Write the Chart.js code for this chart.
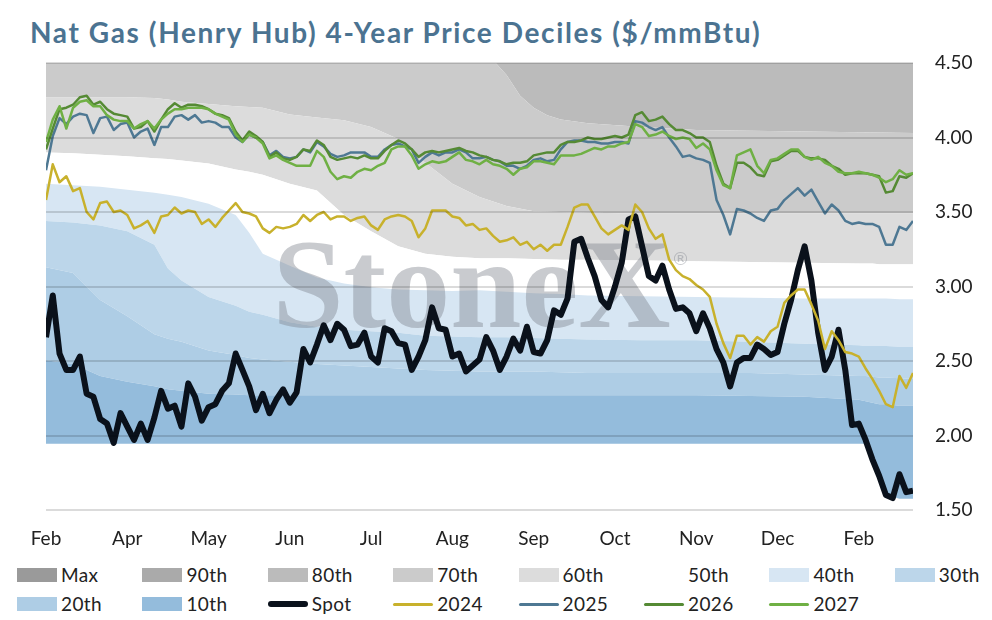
<!DOCTYPE html>
<html>
<head>
<meta charset="utf-8">
<script src="https://cdn.jsdelivr.net/npm/chart.js@4.4.1/dist/chart.umd.min.js"></script>
<style>
  html, body { margin: 0; padding: 0; background: #fff; }
  #wrap { position: relative; width: 992px; height: 620px; overflow: hidden; font-family: Lato, "Open Sans", sans-serif; }
  #title { position: absolute; left: 30px; top: 18px; font-size: 28px; line-height: 28px; font-weight: 700; letter-spacing: 1.6px; color: #4b7391; white-space: nowrap; }
  #chartBox { position: absolute; left: 0; top: 0; width: 992px; height: 562px; }
  .item { position: absolute; height: 20px; font-size: 19px; line-height: 20px; letter-spacing: 0.4px; color: #222; white-space: nowrap; }
  .swatch { position: absolute; left: 0; width: 40px; }
  .txt { position: absolute; left: 44px; top: 0; }
</style>
</head>
<body>
<div id="wrap">
  <div id="title">Nat Gas (Henry Hub) 4-Year Price Deciles ($/mmBtu)</div>
  <div id="chartBox"><canvas id="myChart"></canvas></div>
  <div id="legend"></div>
</div>
<script>
// x positions are trading-day steps; a month label every 12 steps
const tickIdx = [0, 12, 24, 36, 48, 60, 72, 84, 96, 108, 120];
const tickLabels = ["Feb", "Apr", "May", "Jun", "Jul", "Aug", "Sep", "Oct", "Nov", "Dec", "Feb"];

const spot = [
    2.66, 2.94, 2.55, 2.44, 2.44, 2.53, 2.28, 2.26, 2.11, 2.08,
    1.95, 2.15, 2.06, 1.97, 2.08, 1.97, 2.12, 2.30, 2.18, 2.20,
    2.06, 2.35, 2.26, 2.10, 2.19, 2.21, 2.30, 2.35, 2.55, 2.44,
    2.33, 2.17, 2.28, 2.15, 2.24, 2.31, 2.22, 2.29, 2.58, 2.49,
    2.61, 2.74, 2.64, 2.75, 2.71, 2.60, 2.61, 2.69, 2.53, 2.49,
    2.72, 2.70, 2.62, 2.61, 2.44, 2.53, 2.64, 2.86, 2.72, 2.71,
    2.53, 2.55, 2.43, 2.47, 2.51, 2.66, 2.57, 2.44, 2.53, 2.65,
    2.57, 2.73, 2.56, 2.55, 2.64, 2.84, 2.81, 2.92, 3.30, 3.32,
    3.19, 3.07, 2.91, 2.86, 3.00, 3.16, 3.45, 3.47, 3.27, 3.07,
    3.04, 3.14, 2.98, 2.85, 2.86, 2.82, 2.70, 2.82, 2.72, 2.58,
    2.49, 2.33, 2.49, 2.52, 2.52, 2.61, 2.58, 2.54, 2.56, 2.75,
    2.91, 3.11, 3.27, 3.04, 2.69, 2.44, 2.53, 2.71, 2.44, 2.07,
    2.08, 1.97, 1.84, 1.73, 1.60, 1.58, 1.74, 1.62, 1.63
];
const cal2024 = [
    3.58, 3.82, 3.70, 3.74, 3.64, 3.66, 3.50, 3.45, 3.56, 3.57,
    3.50, 3.51, 3.48, 3.39, 3.41, 3.44, 3.36, 3.47, 3.48, 3.53,
    3.49, 3.51, 3.50, 3.42, 3.45, 3.40, 3.46, 3.51, 3.56, 3.50,
    3.49, 3.47, 3.39, 3.36, 3.40, 3.39, 3.40, 3.42, 3.48, 3.44,
    3.48, 3.50, 3.45, 3.47, 3.47, 3.44, 3.46, 3.47, 3.41, 3.38,
    3.45, 3.47, 3.48, 3.47, 3.44, 3.33, 3.39, 3.51, 3.51, 3.51,
    3.47, 3.46, 3.41, 3.42, 3.38, 3.39, 3.34, 3.30, 3.31, 3.33,
    3.28, 3.30, 3.25, 3.28, 3.24, 3.28, 3.28, 3.40, 3.53, 3.55,
    3.55, 3.47, 3.39, 3.35, 3.38, 3.41, 3.38, 3.55, 3.50, 3.39,
    3.32, 3.35, 3.18, 3.11, 3.07, 3.05, 3.01, 2.98, 2.93, 2.75,
    2.62, 2.52, 2.67, 2.67, 2.61, 2.66, 2.63, 2.70, 2.73, 2.89,
    2.94, 2.98, 2.98, 2.88, 2.77, 2.58, 2.70, 2.64, 2.56, 2.55,
    2.53, 2.45, 2.38, 2.30, 2.21, 2.19, 2.40, 2.32, 2.42
];
const cal2025 = [
    3.78, 4.01, 4.13, 4.09, 4.14, 4.16, 4.15, 4.03, 4.13, 4.14,
    4.05, 4.09, 4.10, 4.00, 4.04, 4.06, 3.95, 4.07, 4.07, 4.14,
    4.15, 4.12, 4.15, 4.10, 4.11, 4.10, 4.07, 4.07, 4.00, 3.97,
    4.02, 4.00, 3.97, 3.88, 3.91, 3.87, 3.86, 3.87, 3.92, 3.90,
    3.97, 3.94, 3.89, 3.87, 3.88, 3.90, 3.90, 3.90, 3.87, 3.87,
    3.92, 3.95, 3.96, 3.94, 3.92, 3.83, 3.87, 3.90, 3.88, 3.90,
    3.90, 3.92, 3.90, 3.86, 3.86, 3.87, 3.85, 3.84, 3.81, 3.81,
    3.79, 3.81, 3.85, 3.86, 3.84, 3.85, 3.92, 3.97, 3.98, 3.98,
    3.97, 3.97, 3.96, 3.96, 3.97, 3.97, 3.96, 4.11, 4.10, 4.07,
    4.05, 4.07, 4.00, 3.94, 3.87, 3.88, 3.86, 3.85, 3.83, 3.58,
    3.48, 3.35, 3.52, 3.51, 3.49, 3.46, 3.44, 3.51, 3.52, 3.58,
    3.62, 3.66, 3.61, 3.65, 3.57, 3.49, 3.55, 3.51, 3.44, 3.42,
    3.43, 3.42, 3.42, 3.40, 3.28, 3.28, 3.40, 3.38, 3.44
];
const cal2026 = [
    3.92, 4.06, 4.19, 4.20, 4.22, 4.27, 4.28, 4.22, 4.24, 4.19,
    4.16, 4.15, 4.14, 4.06, 4.07, 4.11, 4.04, 4.12, 4.19, 4.23,
    4.20, 4.22, 4.22, 4.21, 4.19, 4.16, 4.15, 4.13, 4.04, 3.98,
    4.04, 4.01, 3.97, 3.87, 3.90, 3.86, 3.85, 3.87, 3.92, 3.91,
    3.98, 3.95, 3.87, 3.85, 3.86, 3.87, 3.86, 3.88, 3.86, 3.86,
    3.91, 3.95, 3.98, 3.96, 3.92, 3.87, 3.90, 3.91, 3.90, 3.91,
    3.92, 3.93, 3.91, 3.90, 3.88, 3.87, 3.85, 3.84, 3.82, 3.83,
    3.83, 3.84, 3.88, 3.89, 3.90, 3.90, 3.95, 3.97, 3.97, 3.98,
    4.00, 3.99, 3.99, 4.00, 4.01, 4.00, 4.02, 4.15, 4.17, 4.11,
    4.12, 4.14, 4.09, 4.05, 4.05, 4.03, 4.00, 4.00, 3.97, 3.81,
    3.69, 3.66, 3.83, 3.83, 3.80, 3.75, 3.74, 3.84, 3.85, 3.88,
    3.91, 3.91, 3.87, 3.86, 3.86, 3.85, 3.81, 3.79, 3.75, 3.76,
    3.76, 3.76, 3.75, 3.74, 3.63, 3.64, 3.74, 3.73, 3.76
];
const cal2027 = [
    3.97, 4.12, 4.21, 4.06, 4.20, 4.24, 4.25, 4.21, 4.21, 4.15,
    4.12, 4.11, 4.11, 4.06, 4.09, 4.11, 4.06, 4.12, 4.16, 4.19,
    4.19, 4.20, 4.20, 4.20, 4.19, 4.16, 4.14, 4.12, 4.02, 3.97,
    4.02, 4.00, 3.96, 3.86, 3.88, 3.85, 3.83, 3.81, 3.81, 3.81,
    3.91, 3.87, 3.77, 3.72, 3.74, 3.73, 3.77, 3.79, 3.78, 3.81,
    3.83, 3.92, 3.94, 3.94, 3.88, 3.79, 3.82, 3.84, 3.83, 3.84,
    3.87, 3.90, 3.85, 3.84, 3.82, 3.85, 3.82, 3.81, 3.79, 3.75,
    3.79, 3.80, 3.84, 3.84, 3.83, 3.82, 3.88, 3.88, 3.88, 3.89,
    3.91, 3.93, 3.92, 3.94, 3.94, 3.96, 3.97, 4.09, 4.07, 4.01,
    4.02, 4.04, 4.01, 3.99, 4.00, 3.99, 3.93, 3.96, 3.92, 3.78,
    3.68, 3.66, 3.88, 3.90, 3.92, 3.81, 3.76, 3.85, 3.86, 3.89,
    3.92, 3.92, 3.87, 3.85, 3.87, 3.83, 3.81, 3.77, 3.76, 3.76,
    3.77, 3.76, 3.75, 3.73, 3.70, 3.72, 3.78, 3.75, 3.76
];

// decile boundaries (trailing 4-year distribution), sampled at bandX
const bandX = [0, 4, 8, 12, 16, 18, 20, 24, 28, 30, 32, 36, 40, 44, 48, 52, 56, 60, 64,
    68, 72, 76, 80, 88, 96, 104, 112, 120, 121, 122, 123, 124, 126, 128];
const p10 = [2.505, 2.48, 2.40, 2.36, 2.33, 2.31, 2.30, 2.28, 2.275, 2.27, 2.27, 2.27, 2.27, 2.27, 2.27, 2.27, 2.27, 2.27, 2.27,
    2.27, 2.27, 2.27, 2.27, 2.27, 2.27, 2.265, 2.26, 2.24, 2.23, 2.22, 2.21, 2.21, 2.20, 2.20];
const p20 = [3.13, 3.09, 2.91, 2.80, 2.68, 2.65, 2.63, 2.57, 2.54, 2.52, 2.51, 2.495, 2.48, 2.47, 2.46, 2.45, 2.44, 2.435, 2.43,
    2.43, 2.43, 2.425, 2.42, 2.42, 2.42, 2.42, 2.41, 2.40, 2.40, 2.395, 2.39, 2.39, 2.385, 2.38];
const p30 = [3.44, 3.43, 3.41, 3.37, 3.28, 3.12, 3.04, 2.93, 2.87, 2.83, 2.81, 2.76, 2.73, 2.71, 2.70, 2.69, 2.67, 2.665, 2.66,
    2.66, 2.655, 2.65, 2.645, 2.64, 2.64, 2.63, 2.615, 2.605, 2.60, 2.60, 2.60, 2.60, 2.595, 2.595];
const p40 = [3.69, 3.68, 3.67, 3.65, 3.63, 3.615, 3.60, 3.555, 3.48, 3.36, 3.22, 3.14, 3.06, 3.02, 2.995, 2.98, 2.975, 2.97, 2.975,
    2.965, 2.955, 2.95, 2.94, 2.935, 2.93, 2.925, 2.92, 2.92, 2.92, 2.92, 2.92, 2.92, 2.915, 2.915];
const p50 = [3.90, 3.895, 3.885, 3.875, 3.86, 3.855, 3.845, 3.825, 3.785, 3.77, 3.75, 3.69, 3.645, 3.48, 3.37, 3.27, 3.22, 3.20, 3.19,
    3.19, 3.185, 3.18, 3.18, 3.175, 3.17, 3.165, 3.16, 3.155, 3.155, 3.155, 3.15, 3.15, 3.15, 3.15];
const p60 = [4.27, 4.27, 4.27, 4.27, 4.265, 4.255, 4.24, 4.225, 4.21, 4.205, 4.20, 4.155, 4.135, 4.115, 4.07, 3.99, 3.83, 3.69, 3.60,
    3.54, 3.505, 3.50, 3.495, 3.49, 3.49, 3.49, 3.49, 3.49, 3.49, 3.49, 3.49, 3.49, 3.49, 3.49];

const minX = [0, 121, 122, 123, 124, 126, 128];
const pMin = [1.945, 1.945, 1.84, 1.73, 1.60, 1.575, 1.575];

const p70X = [0, 64, 66, 68, 70, 72, 74, 76, 80, 88, 96, 112, 128];
const p70 = [4.62, 4.62, 4.52, 4.42, 4.28, 4.20, 4.15, 4.12, 4.095, 4.07, 4.05, 4.04, 4.03];

// upper deciles sit above the 4.50 axis limit for the whole window
const edgeX = [0, 128];
const p80 = [4.75, 4.75];
const p90 = [5.30, 5.30];
const pMax = [9.70, 9.70];

const xy = (xs, ys) => ys.map((y, k) => ({ x: xs[k], y: y }));
const steps = spot.map((v, i) => i);

function band(label, xs, ys, color, order) {
    return {
        label: label,
        data: xy(xs, ys),
        fill: "-1",
        backgroundColor: color,
        borderColor: "transparent",
        borderWidth: 0,
        pointRadius: 0,
        order: order,
    };
}

function line(label, ys, color, width, order) {
    return {
        label: label,
        data: xy(steps, ys),
        fill: false,
        borderColor: color,
        backgroundColor: color,
        borderWidth: width,
        borderJoinStyle: "round",
        pointRadius: 0,
        order: order,
    };
}

const datasets = [
    { label: "", data: xy(minX, pMin), fill: false, borderWidth: 0, borderColor: "transparent", pointRadius: 0, order: 6 },
    band("10th", bandX, p10, "#94bcdc", 7),
    band("20th", bandX, p20, "#aecde5", 8),
    band("30th", bandX, p30, "#bcd6ea", 9),
    band("40th", bandX, p40, "#d7e6f3", 10),
    band("50th", bandX, p50, "#ffffff", 11),
    band("60th", bandX, p60, "#dcdcdc", 12),
    band("70th", p70X, p70, "#cbcbcb", 13),
    band("80th", edgeX, p80, "#bbbbbb", 14),
    band("90th", edgeX, p90, "#aaaaaa", 15),
    band("Max", edgeX, pMax, "#9a9a9a", 16),
    line("Spot", spot, "#0a111b", 6, 5),
    line("2024", cal2024, "#c8b12c", 2.5, 4),
    line("2025", cal2025, "#4e7893", 2.5, 3),
    line("2026", cal2026, "#558a34", 2.5, 2),
    line("2027", cal2027, "#6fb044", 2.5, 1),
];

// watermark goes over the bands but under the price lines
const watermark = {
    id: "watermark",
    afterDatasetDraw(chart, args) {
        if (args.index !== 0) return;
        const { ctx, chartArea } = chart;
        const cx = (chartArea.left + chartArea.right) / 2;
        const cy = (chartArea.top + chartArea.bottom) / 2;
        ctx.save();
        ctx.fillStyle = "rgba(120,124,134,0.4)";
        ctx.textAlign = "center";
        ctx.textBaseline = "alphabetic";
        ctx.font = 'bold 128px "Liberation Serif", serif';
        ctx.fillText("StoneX", cx - 8, cy + 40);
        ctx.font = '18px "DejaVu Sans", sans-serif';
        ctx.fillText("\u00AE", cx + 201, cy - 22);
        ctx.restore();
    },
};

Chart.defaults.font.family = "Lato, 'Open Sans', sans-serif";

const ctx = document.querySelector("#myChart");
const myChart = new Chart(ctx, {
    type: "line",
    data: { datasets: datasets },
    plugins: [watermark],
    options: {
        responsive: true,
        maintainAspectRatio: false,
        animation: false,
        layout: { padding: { left: 46, top: 63, right: 0, bottom: 0 } },
        plugins: {
            legend: { display: false },
            tooltip: { enabled: false },
        },
        scales: {
            x: {
                type: "linear",
                min: 0,
                max: 128,
                grid: { display: false, drawTicks: false },
                border: { display: false },
                afterBuildTicks: (axis) => {
                    axis.ticks = tickIdx.map((v) => ({ value: v }));
                },
                afterFit: (axis) => {
                    axis.height = 52;
                },
                ticks: {
                    autoSkip: false,
                    maxRotation: 0,
                    padding: 17,
                    color: "#222",
                    font: { size: 19 },
                    callback: (v) => {
                        const k = tickIdx.indexOf(v);
                        return k >= 0 ? tickLabels[k] : "";
                    },
                },
            },
            y: {
                position: "right",
                min: 1.5,
                max: 4.5,
                border: { display: false },
                grid: {
                    color: "rgba(0,0,0,0.14)",
                    lineWidth: 2,
                    drawTicks: false,
                    z: 1,
                },
                afterFit: (axis) => {
                    axis.width = 79;
                },
                ticks: {
                    stepSize: 0.5,
                    padding: 22,
                    color: "#222",
                    font: { size: 19 },
                    callback: (v) => v.toFixed(2),
                },
            },
        },
    },
});

// legend laid out in a fixed 8-column grid like the original
const legendOrder = [10, 9, 8, 7, 6, 5, 4, 3, 2, 1, 11, 12, 13, 14, 15];
const legendBox = document.querySelector("#legend");
legendOrder.forEach((dsIndex, k) => {
    const ds = myChart.data.datasets[dsIndex];
    const col = k % 8;
    const row = Math.floor(k / 8);
    const item = document.createElement("div");
    item.className = "item";
    item.style.left = 17 + col * 125.4 + "px";
    item.style.top = 565 + row * 29 + "px";

    const sw = document.createElement("div");
    sw.className = "swatch";
    if (ds.fill === false) {
        const h = ds.borderWidth > 4 ? 6 : 3;
        sw.style.height = h + "px";
        sw.style.top = 10 - h / 2 + "px";
        sw.style.background = ds.borderColor;
        sw.style.borderRadius = h / 2 + "px";
    } else {
        sw.style.height = "14px";
        sw.style.top = "3px";
        sw.style.background = ds.backgroundColor;
    }
    const txt = document.createElement("span");
    txt.className = "txt";
    txt.textContent = ds.label;

    item.appendChild(sw);
    item.appendChild(txt);
    legendBox.appendChild(item);
});
</script>
</body>
</html>
